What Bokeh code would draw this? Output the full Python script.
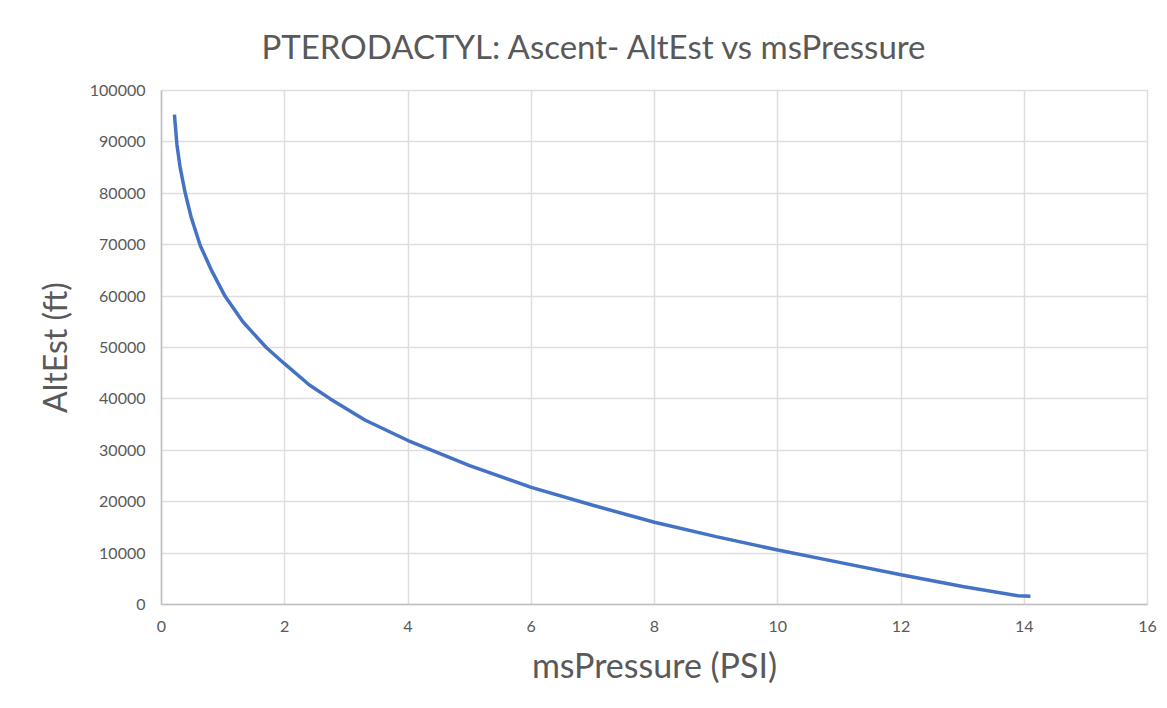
from bokeh.plotting import figure
from bokeh.models import FixedTicker, BasicTickFormatter, Range1d, Title
from bokeh.embed import file_html
from bokeh.resources import INLINE

# Data
pressure_psi = [0.21, 0.25, 0.30, 0.38, 0.48, 0.63, 0.82, 1.03, 1.32, 1.70, 2.0,
                2.4, 2.74, 3.3, 4.0, 5.0, 6.0, 7.0, 8.0, 9.0, 10.0, 11.0, 12.0,
                13.0, 13.9, 14.1]
alt_est_ft = [95300, 89500, 85200, 80300, 75400, 69800, 64800, 60000, 55000, 50000,
              46800, 42700, 40000, 35900, 31900, 27000, 22800, 19300, 16000, 13200,
              10600, 8200, 5800, 3500, 1700, 1600]
x_ticks = [0, 2, 4, 6, 8, 10, 12, 14, 16]
y_ticks = [0, 10000, 20000, 30000, 40000, 50000, 60000, 70000, 80000, 90000, 100000]

FONT = "Lato"
GREY = "#595959"

p = figure(width=1159, height=700, output_backend="svg", toolbar_location=None,
           x_range=Range1d(0, 16), y_range=Range1d(0, 100000),
           min_border_left=161, min_border_right=12, min_border_top=90,
           min_border_bottom=96)
p.title = None
t = Title(text="PTERODACTYL: Ascent- AltEst vs msPressure", align="left", offset=100,
          vertical_align="top",
          text_font=FONT, text_font_size="33px", text_color=GREY,
          text_font_style="normal", standoff=46)
p.add_layout(t, "above")

p.line(pressure_psi, alt_est_ft, line_color="#4472C4", line_width=3.5)

p.xaxis.ticker = FixedTicker(ticks=x_ticks)
p.yaxis.ticker = FixedTicker(ticks=y_ticks)
p.yaxis.formatter = BasicTickFormatter(use_scientific=False)
for ax in (p.xaxis, p.yaxis):
    ax.major_tick_in = 0
    ax.major_tick_out = 0
    ax.minor_tick_in = 0
    ax.minor_tick_out = 0
    ax.axis_line_color = "#bfbfbf"
    ax.axis_line_width = 1.5
    ax.major_label_text_font = FONT
    ax.major_label_text_font_size = "16px"
    ax.major_label_text_color = GREY
    ax.axis_label_text_font = FONT
    ax.axis_label_text_color = GREY
    ax.axis_label_text_font_style = "normal"
p.xaxis.axis_label_text_font_size = "34px"
p.yaxis.axis_label_text_font_size = "32px"
p.xaxis.axis_label = "msPressure (PSI)"
p.yaxis.axis_label = "AltEst (ft)"
p.xaxis.major_label_standoff = 16
p.yaxis.major_label_standoff = 16
p.xaxis.axis_label_standoff = 9
p.yaxis.axis_label_standoff = 13

p.grid.grid_line_color = "#dedede"
p.grid.grid_line_width = 1.5
p.outline_line_color = "#dedede"
p.outline_line_width = 1.5
p.background_fill_color = "white"
p.border_fill_color = "white"

open("out.html", "w").write(file_html(p, INLINE))
